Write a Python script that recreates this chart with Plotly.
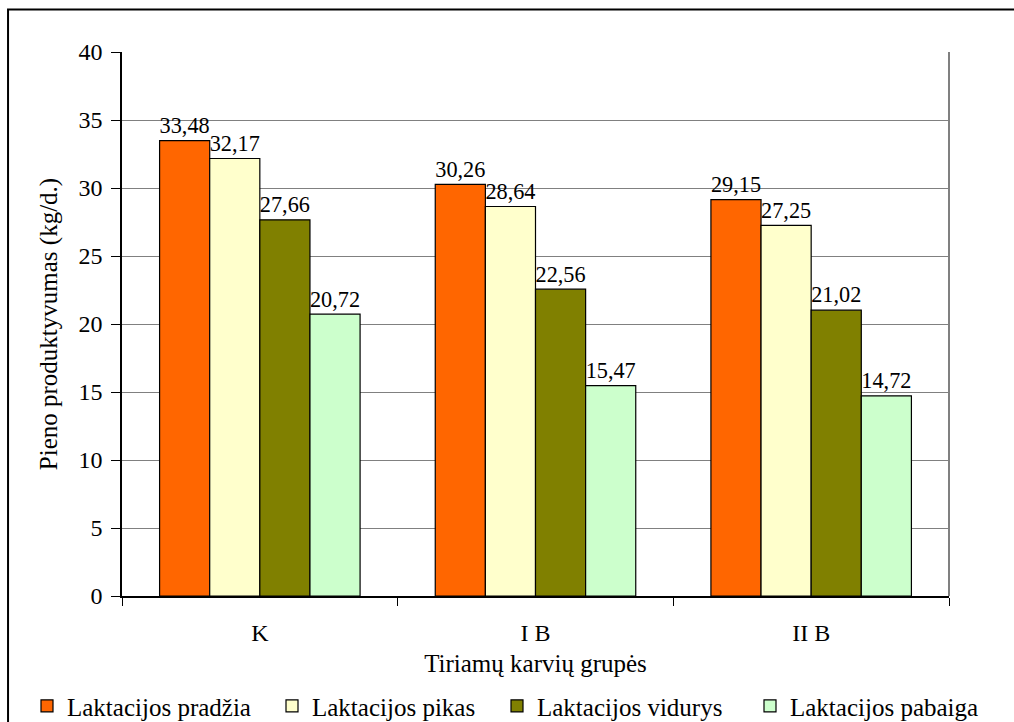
import plotly.graph_objects as go

# Milk yield by cow group and lactation stage
groups = ["K", "I B", "II B"]
series_names = ["Laktacijos pradžia", "Laktacijos pikas", "Laktacijos vidurys", "Laktacijos pabaiga"]
pradzia = [33.48, 30.26, 29.15]
pikas = [32.17, 28.64, 27.25]
vidurys = [27.66, 22.56, 21.02]
pabaiga = [20.72, 15.47, 14.72]
colors = ["#FF6600", "#FFFFCC", "#808000", "#CCFFCC"]

y_ticks = [0, 5, 10, 15, 20, 25, 30, 35, 40]

FONT = "Liberation Serif, Times New Roman, serif"
FS = 24

# one legend box per series so the row keeps its spacing
legend_ids = ["legend", "legend2", "legend3", "legend4"]
legend_x = [27, 272, 497, 750]

fig = go.Figure()
for name, vals, col, lid in zip(series_names, [pradzia, pikas, vidurys, pabaiga], colors, legend_ids):
    fig.add_trace(go.Bar(
        name=name,
        x=groups,
        y=vals,
        legend=lid,
        marker=dict(color=col, line=dict(color="black", width=1.2)),
        texttemplate="%{y:.2f}",
        textposition="outside",
        textfont=dict(family=FONT, size=FS, color="black"),
        cliponaxis=False,
    ))

legend_style = {}
for lid, lx in zip(legend_ids, legend_x):
    legend_style[lid] = dict(
        orientation="h",
        xref="container", yref="container",
        x=lx / 1014, xanchor="left",
        y=0.022, yanchor="middle",
        font=dict(family=FONT, size=25, color="black"),
        itemwidth=30,
        bgcolor="rgba(0,0,0,0)",
    )

fig.update_layout(
    width=1014,
    height=722,
    separators=", ",
    barmode="group",
    bargap=0.2727,
    bargroupgap=0,
    plot_bgcolor="white",
    paper_bgcolor="white",
    font=dict(family=FONT, size=FS, color="black"),
    margin=dict(l=122, r=65, t=52, b=126, autoexpand=False),
    showlegend=True,
    **legend_style,
    xaxis=dict(
        type="category",
        tickson="boundaries",
        ticks="outside",
        ticklen=8,
        tickcolor="black",
        showline=True,
        linecolor="black",
        linewidth=1.5,
        showgrid=False,
        automargin=False,
        ticklabelstandoff=14,
        tickfont=dict(family=FONT, size=FS),
        title=dict(text="Tiriamų karvių grupės", standoff=10,
                   font=dict(family=FONT, size=25)),
    ),
    yaxis=dict(
        range=[0, 40],
        tickvals=y_ticks,
        ticks="outside",
        ticklen=9,
        tickcolor="black",
        showline=True,
        linecolor="black",
        linewidth=1.5,
        showgrid=True,
        gridcolor="#808080",
        gridwidth=1.3,
        zeroline=False,
        automargin=False,
        ticklabelstandoff=4,
        tickfont=dict(family=FONT, size=FS),
        title=dict(text="Pieno produktyvumas (kg/d.)", standoff=14,
                   font=dict(family=FONT, size=25)),
    ),
    shapes=[
        # right edge of the plot area
        dict(type="line", xref="paper", yref="paper", x0=1, x1=1, y0=0, y1=1,
             line=dict(color="#808080", width=2)),
        # chart frame
        dict(type="rect", xref="paper", yref="paper",
             x0=-0.1378, x1=1.2, y0=-0.5, y1=1.078,
             line=dict(color="black", width=2), fillcolor="rgba(0,0,0,0)"),
    ],
)

fig.write_html("out.html")
